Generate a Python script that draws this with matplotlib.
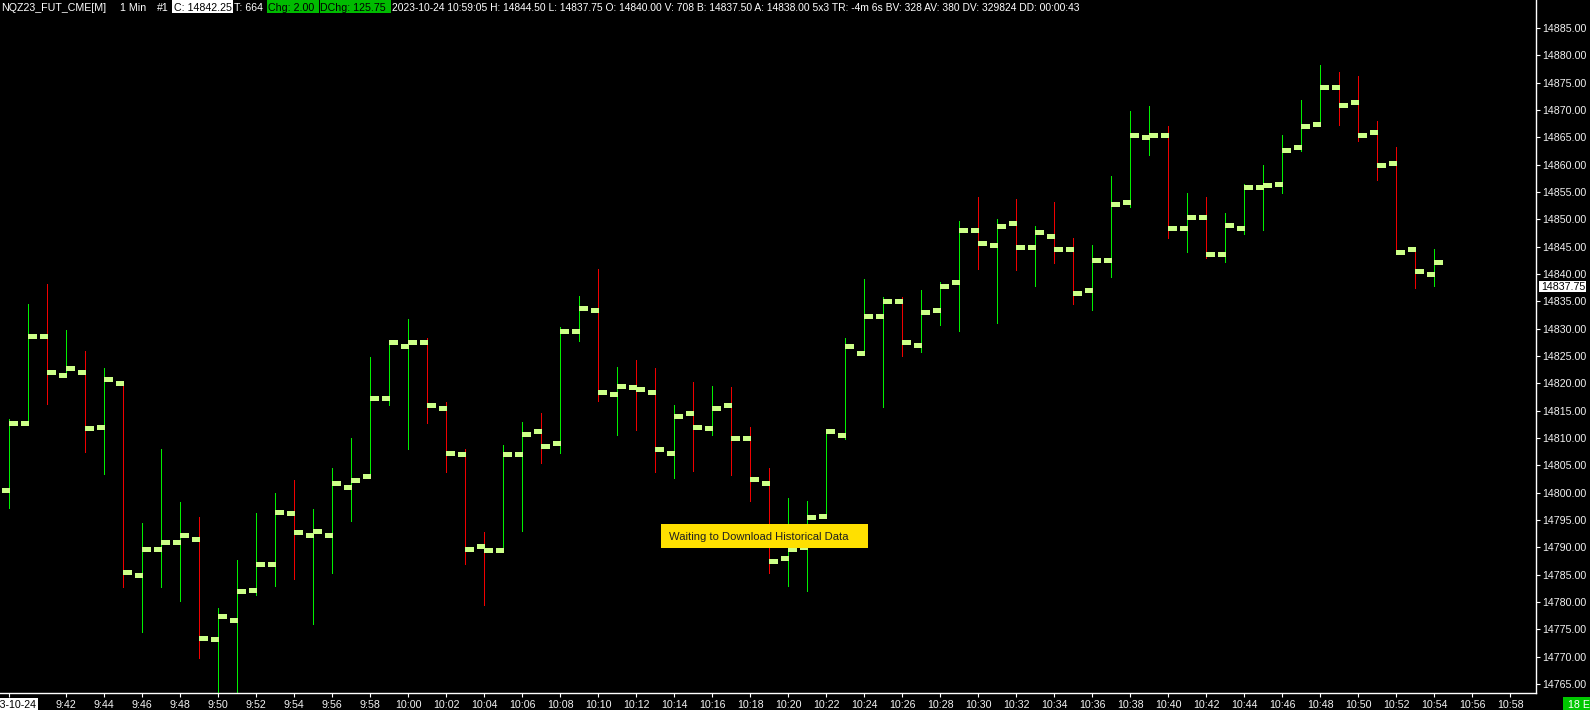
import matplotlib
matplotlib.use('Agg')
import matplotlib.pyplot as plt
from matplotlib.patches import Rectangle
from matplotlib import font_manager
import numpy as np

# ---------------- data ----------------
times = ['9:39', '9:40', '9:41', '9:42', '9:43', '9:44', '9:45', '9:46', '9:47', '9:48',
         '9:49', '9:50', '9:51', '9:52', '9:53', '9:54', '9:55', '9:56', '9:57', '9:58',
         '9:59', '10:00', '10:01', '10:02', '10:03', '10:04', '10:05', '10:06', '10:07', '10:08',
         '10:09', '10:10', '10:11', '10:12', '10:13', '10:14', '10:15', '10:16', '10:17', '10:18',
         '10:19', '10:20', '10:21', '10:22', '10:23', '10:24', '10:25', '10:26', '10:27', '10:28',
         '10:29', '10:30', '10:31', '10:32', '10:33', '10:34', '10:35', '10:36', '10:37', '10:38',
         '10:39', '10:40', '10:41', '10:42', '10:43', '10:44', '10:45', '10:46', '10:47', '10:48',
         '10:49', '10:50', '10:51', '10:52', '10:53', '10:54']

opens = [14800.5, 14812.75, 14828.75, 14821.5, 14822.0, 14812.0, 14820.0, 14785.0, 14789.75, 14791.0,
         14791.5, 14773.25, 14776.75, 14782.25, 14787.0, 14796.25, 14792.25, 14792.25, 14801.0, 14803.0,
         14817.25, 14826.75, 14827.5, 14815.5, 14807.0, 14790.25, 14789.5, 14807.0, 14811.25, 14809.0,
         14829.5, 14833.5, 14818.0, 14819.25, 14818.5, 14807.25, 14814.5, 14811.75, 14816.0, 14810.0,
         14801.75, 14788.0, 14790.0, 14795.75, 14810.5, 14825.5, 14832.25, 14835.0, 14827.0, 14833.5,
         14838.5, 14848.0, 14845.25, 14849.25, 14845.0, 14847.0, 14844.5, 14837.0, 14842.5, 14853.25,
         14865.0, 14865.5, 14848.5, 14850.5, 14843.75, 14848.5, 14856.0, 14856.5, 14863.25, 14867.5,
         14874.25, 14871.5, 14866.0, 14860.25, 14844.5, 14840.0]

highs = [14813.5, 14834.5, 14838.25, 14829.75, 14826.0, 14822.75, 14820.0, 14794.5, 14808.0, 14798.25,
         14795.5, 14779.0, 14787.75, 14796.25, 14800.0, 14802.25, 14797.0, 14804.5, 14810.0, 14824.75,
         14827.5, 14831.75, 14828.25, 14816.5, 14808.0, 14792.75, 14808.75, 14813.0, 14814.5, 14830.25,
         14836.0, 14841.0, 14823.0, 14824.25, 14822.75, 14816.0, 14820.25, 14819.5, 14819.25, 14812.0,
         14804.5, 14799.0, 14798.5, 14811.25, 14828.25, 14839.0, 14835.75, 14835.75, 14837.0, 14838.5,
         14849.75, 14854.0, 14850.0, 14853.75, 14848.75, 14853.25, 14846.5, 14845.25, 14858.0, 14869.75,
         14870.75, 14867.0, 14854.75, 14854.0, 14851.25, 14856.5, 14860.0, 14865.5, 14871.75, 14878.25,
         14877.0, 14876.25, 14868.0, 14863.25, 14844.5, 14844.5]

lows = [14797.25, 14812.75, 14816.25, 14821.5, 14807.5, 14803.5, 14782.75, 14774.5, 14782.75, 14780.25,
        14769.75, 14762.0, 14762.0, 14781.25, 14783.0, 14784.25, 14776.0, 14785.25, 14794.75, 14802.75,
        14816.0, 14808.0, 14812.75, 14803.75, 14787.0, 14779.5, 14789.5, 14793.0, 14805.5, 14807.25,
        14827.75, 14816.75, 14810.5, 14811.5, 14803.75, 14802.75, 14804.0, 14810.5, 14803.25, 14798.5,
        14785.25, 14783.0, 14782.0, 14795.75, 14809.75, 14825.25, 14815.75, 14825.0, 14825.75, 14830.75,
        14829.5, 14841.0, 14831.0, 14840.75, 14837.75, 14842.0, 14834.5, 14833.5, 14839.5, 14852.25,
        14861.75, 14846.5, 14844.0, 14843.0, 14842.25, 14847.25, 14848.0, 14854.75, 14862.5, 14867.0,
        14867.25, 14864.25, 14857.25, 14844.0, 14837.5, 14837.75]

closes = [14812.75, 14828.75, 14822.0, 14822.75, 14811.75, 14820.75, 14785.5, 14789.75, 14791.0, 14792.25,
          14773.5, 14777.5, 14782.0, 14787.0, 14796.5, 14792.75, 14793.0, 14801.75, 14802.25, 14817.25,
          14827.5, 14827.5, 14816.0, 14807.25, 14789.75, 14789.5, 14807.0, 14810.75, 14808.5, 14829.5,
          14833.75, 14818.5, 14819.5, 14819.0, 14808.0, 14814.0, 14812.0, 14815.5, 14810.0, 14802.5,
          14787.5, 14789.75, 14795.5, 14811.25, 14826.75, 14832.25, 14835.0, 14827.5, 14833.0, 14837.75,
          14848.0, 14845.75, 14848.75, 14845.0, 14847.75, 14844.5, 14836.5, 14842.5, 14852.75, 14865.5,
          14865.5, 14848.5, 14850.5, 14843.75, 14849.0, 14856.0, 14856.25, 14862.75, 14867.0, 14874.25,
          14871.0, 14865.5, 14860.0, 14844.0, 14840.5, 14842.25]

xtick_labels = ['9:42', '9:44', '9:46', '9:48', '9:50', '9:52', '9:54', '9:56', '9:58', '10:00',
                '10:02', '10:04', '10:06', '10:08', '10:10', '10:12', '10:14', '10:16', '10:18', '10:20',
                '10:22', '10:24', '10:26', '10:28', '10:30', '10:32', '10:34', '10:36', '10:38', '10:40',
                '10:42', '10:44', '10:46', '10:48', '10:50', '10:52', '10:54', '10:56', '10:58']
date_label = '2023-10-24'
ytick_values = [14765, 14770, 14775, 14780, 14785, 14790, 14795, 14800, 14805, 14810, 14815,
                14820, 14825, 14830, 14835, 14840, 14845, 14850, 14855, 14860, 14865, 14870,
                14875, 14880, 14885]
price_marker = 14837.75

# ---------------- fonts ----------------
names = {f.name for f in font_manager.fontManager.ttflist}
if 'Liberation Sans Narrow' in names:
    FONT, SZ, HSZ = 'Liberation Sans Narrow', 9.3, 9.0
else:
    FONT, SZ, HSZ = 'Liberation Sans', 7.7, 7.35
plt.rcParams['font.family'] = [FONT, 'DejaVu Sans']

# ---------------- layout ----------------
W, H = 1590, 710
fig = plt.figure(figsize=(W / 100, H / 100), dpi=100, facecolor='black')
ax_left, ax_right, ax_bottom_px, ax_top_px = 0, 1535.7, 693.3, 0
ax = fig.add_axes([ax_left / W, (H - ax_bottom_px) / H, (ax_right - ax_left) / W,
                   (ax_bottom_px - ax_top_px) / H])
ax.set_facecolor('black')


def tmin(s):
    hh, mm = s.split(':')
    return int(hh) * 60 + int(mm)


t0 = tmin(times[0])
xs = np.array([tmin(t) - t0 for t in times], dtype=float)
o = np.array(opens); h = np.array(highs); l = np.array(lows); c = np.array(closes)

UP, DOWN, TICK = '#00f000', '#f00000', '#ccff88'
cols = [UP if cc >= oo else DOWN for oo, cc in zip(o, c)]
ax.vlines(xs, l, h, colors=cols, linewidth=0.72, antialiased=False, zorder=2)
tl = 0.385
ho = ax.hlines(o, xs - tl, xs, colors=TICK, linewidth=2.2, antialiased=False, zorder=3)
hc = ax.hlines(c, xs, xs + tl, colors=TICK, linewidth=2.2, antialiased=False, zorder=3)
for coll in (ho, hc):
    coll.set_capstyle('butt')

# scales: 19.0 px per minute, first bar at x=9.3px
ax.set_xlim(-9.3 / 19.0, (ax_right - 9.3) / 19.0)
# 5.467 px per point, 14885 at y=28px
ppp = 5.467
ax.set_ylim(14885 - (ax_bottom_px - 28) / ppp, 14885 + 28 / ppp)

for s in ['left', 'top']:
    ax.spines[s].set_visible(False)
for s in ['bottom', 'right']:
    ax.spines[s].set_color('white')
    ax.spines[s].set_linewidth(1.0)

ax.yaxis.tick_right()
ax.set_yticks(ytick_values)
ax.set_yticklabels(['%.2f' % v for v in ytick_values])
ax.tick_params(axis='y', colors='white', labelcolor='#f2f2f2', length=3, width=0.8,
               pad=1.5, labelsize=SZ, direction='out')
for lab in ax.get_yticklabels():
    lab.set_horizontalalignment('left')

xt = [tmin(s) - t0 for s in xtick_labels]
ax.set_xticks([0] + xt)
ax.set_xticklabels([''] + xtick_labels)
ax.tick_params(axis='x', colors='white', labelcolor='#f2f2f2', length=3, width=0.8,
               pad=1.5, labelsize=SZ, direction='out')


def fx(x):
    return x / W


def fy(y):
    return 1 - y / H


def box(x0, y0, x1, y1, color, z=6):
    fig.add_artist(Rectangle((fx(x0), fy(y1)), (x1 - x0) / W, (y1 - y0) / H,
                             transform=fig.transFigure, facecolor=color, edgecolor='none',
                             zorder=z))


def ftext(x, y, s, color='white', size=SZ, ha='left', va='baseline', z=7):
    fig.text(fx(x), fy(y), s, color=color, fontsize=size, ha=ha, va=va, zorder=z,
             family=[FONT, 'DejaVu Sans'])


# date label at first bar
box(-25, 697.5, 38, 710, 'white')
ftext(9.3, 707.5, date_label, color='black', ha='center')

# header
base = 10.8
ftext(1.5, base, 'NQZ23_FUT_CME[M]', size=HSZ * 1.04)
ftext(120, base, '1 Min', size=HSZ * 1.04)
ftext(157, base, '#1', size=HSZ * 1.04)
box(172, 0, 232.5, 13.3, 'white')
ftext(173.5, base, 'C: 14842.25', color='black', size=HSZ * 1.04)
ftext(234, base, 'T: 664', size=HSZ * 1.04)
box(267, 0, 318.5, 13.3, '#00bb00')
ftext(268, base, 'Chg: 2.00', color='black', size=HSZ * 1.04)
box(319.5, 0, 390.5, 13.3, '#00bb00')
ftext(320.5, base, 'DChg: 125.75', color='black', size=HSZ * 1.04)
ftext(392, base, '2023-10-24 10:59:05 H: 14844.50 L: 14837.75 O: 14840.00 V: 708 '
                 'B: 14837.50 A: 14838.00 5x3 TR: -4m 6s BV: 328 AV: 380 DV: 329824 DD: 00:00:43',
      size=HSZ)

# waiting label
box(661, 524, 868, 548, '#ffe000')
ftext(669, 540, 'Waiting to Download Historical Data', color='#202020', size=SZ * 1.05)

# price marker on the axis
ym = 28 + (14885 - price_marker) * ppp
box(1539, ym - 5.5, 1586, ym + 5.5, 'white')
ftext(1541, ym + 4, '%.2f' % price_marker, color='black')

# bottom-right green box
box(1563, 697, 1590, 710, '#00c800')
ftext(1568, 708, '18 E', color='white')

fig.savefig('out.png', dpi=100, facecolor='black')
